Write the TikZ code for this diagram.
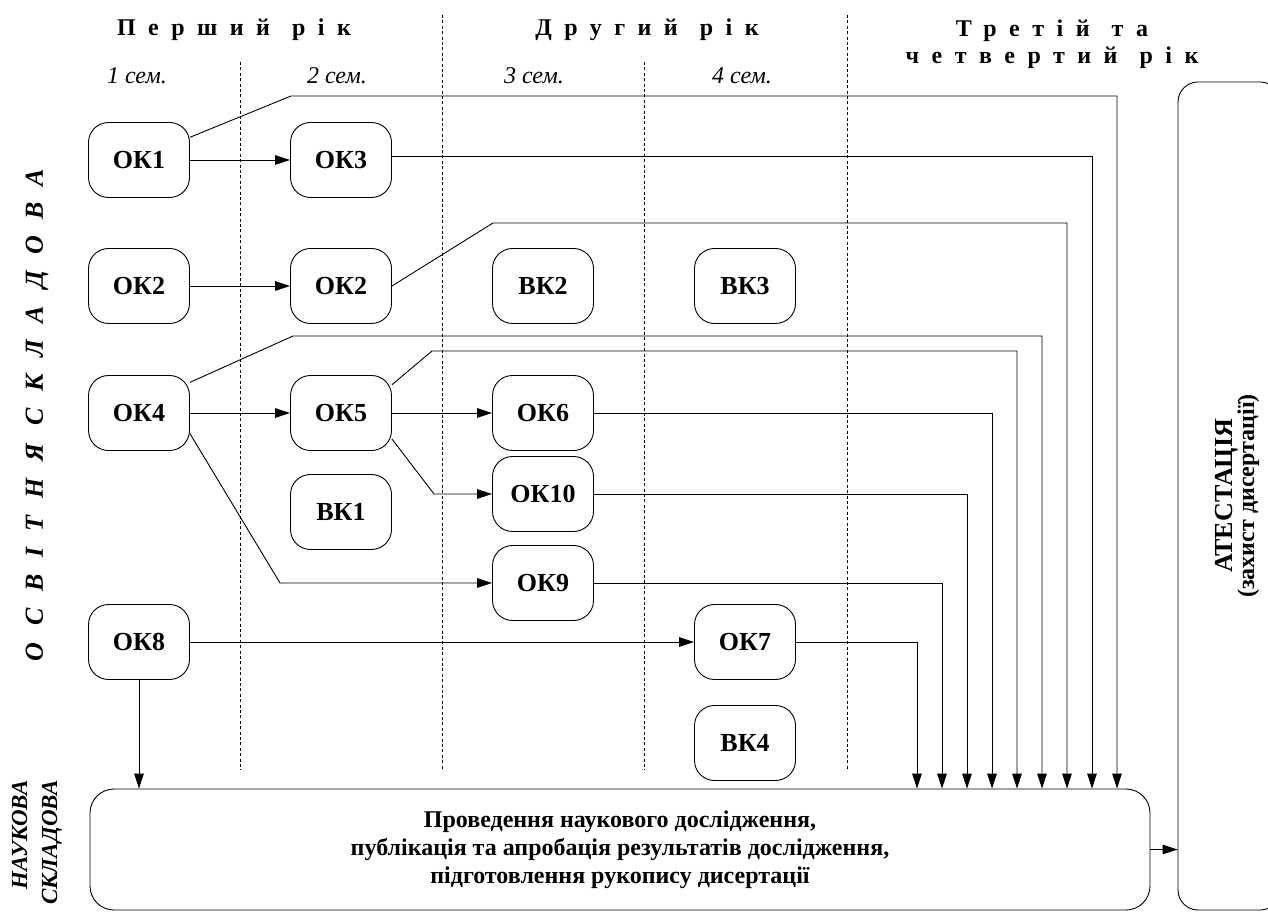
\documentclass[tikz,border=0pt]{standalone}
\usepackage{fontspec}
\setmainfont{Liberation Serif}
\usetikzlibrary{arrows.meta}

\newcommand{\yearfont}{\bfseries\fontsize{12}{13.5}\selectfont\addfontfeature{LetterSpace=52}}
\newcommand{\semfont}{\itshape\fontsize{12}{14}\selectfont}
\newcommand{\partfont}{\bfseries\itshape\fontsize{13}{15}\selectfont}

\tikzset{
  disc/.style={draw, rounded corners=10pt, minimum width=50.5pt, minimum height=37.5pt, inner sep=0pt, font=\bfseries\fontsize{13}{15}\selectfont},
  arr/.style={-{Triangle[length=7.5pt,width=4.8pt]}},
  sem/.style={dash pattern=on 1.5pt off 1.2pt},
}

\begin{document}
\begin{tikzpicture}[x=0.5pt,y=-0.5pt,line width=0.45pt]
\useasboundingbox (0,0) rectangle (1268,913);

\node[font=\yearfont] (yr1) at (234,30) {Перший\hspace{11pt}рік};						% Jahr 1
\node[font=\yearfont] (yr2) at (647,30) {Другий\hspace{11pt}рік};						% Jahr 2
\node[font=\yearfont, align=center] (yr34) at (1052,44) {Третій\hspace{11pt}та\\четвертий\hspace{11pt}рік};	% Jahr 3-4

\node[font=\semfont] (s1) at (137,76) {1 сем.};
\node[font=\semfont] (s2) at (337,76) {2 сем.};
\node[font=\semfont] (s3) at (534,76) {3 сем.};
\node[font=\semfont] (s4) at (742,76) {4 сем.};

\draw[sem] (240,62) -- (240,770);							% Semestergrenze
\draw[sem] (442,15) -- (442,770);							% Jahresgrenze
\draw[sem] (644,62) -- (644,770);							% Semestergrenze
\draw[sem] (847,15) -- (847,770);							% Jahresgrenze

\node[rotate=90, inner sep=0pt, font=\partfont\addfontfeature{LetterSpace=64}] (osv) at (37,415) {ОСВІТНЯ\hspace{9pt}СКЛАДОВА};
\node[rotate=90, inner sep=0pt, anchor=east, align=right, font=\bfseries\itshape\fontsize{11.5}{15}\selectfont] (nauklbl) at (37,780) {НАУКОВА\\СКЛАДОВА};

\node[disc] (ok1) at (139,160) {ОК1};
\node[disc] (ok3) at (341,160) {ОК3};
\node[disc] (ok2) at (139,286) {ОК2};
\node[disc] (ok2b) at (341,286) {ОК2};
\node[disc] (vk2) at (543,286) {ВК2};
\node[disc] (vk3) at (745,286) {ВК3};
\node[disc] (ok4) at (139,413) {ОК4};
\node[disc] (ok5) at (341,413) {ОК5};
\node[disc] (ok6) at (543,413) {ОК6};
\node[disc] (vk1) at (341,512) {ВК1};
\node[disc] (ok10) at (543,494) {ОК10};
\node[disc] (ok9) at (543,583) {ОК9};
\node[disc] (ok8) at (139,642) {ОК8};
\node[disc] (ok7) at (745,642) {ОК7};
\node[disc] (vk4) at (745,743) {ВК4};

\node[draw, rounded corners=12pt, minimum width=530pt, minimum height=60.5pt, align=center,
  font=\bfseries\fontsize{12}{14}\selectfont] (res) at (620,849.5)
  {Проведення наукового дослідження,\\публікація та апробація результатів дослідження,\\підготовлення рукопису дисертації};
\node[draw, rounded corners=10pt, minimum width=51pt, minimum height=414pt, inner sep=0pt] (att) at (1229,496)
  {\hspace{9pt}\rotatebox{90}{\begin{tabular}{@{}c@{}}\fontsize{13}{14}\selectfont\bfseries АТЕСТАЦІЯ\\[-1pt]\fontsize{12}{14}\selectfont\bfseries (захист дисертації)\end{tabular}}};

\draw[arr] (ok1) -- (ok3);												% 1 -> 3
\draw[arr] (ok1.24) -- (291,96) -| (1117,0 |- res.north);				% OK1 nach unten
\draw[arr] (ok3.4) -| (1092,0 |- res.north);							% OK3 nach unten
\draw[arr] (ok2) -- (ok2b);												% 2 -> 2
\draw[arr] (ok2b.east) -- (493,223) -| (1067,0 |- res.north);			% OK2 nach unten
\draw[arr] (ok4.31) -- (293,336) -| (1042,0 |- res.north);				% OK4 oben
\draw[arr] (ok4) -- (ok5);												% 4 -> 5
\draw[arr] (ok4.-22) -- (280,583) -- (ok9);								% 4 -> 9
\draw[arr] (ok5.29) -- (432,351) -| (1017,0 |- res.north);				% OK5 oben
\draw[arr] (ok5) -- (ok6);												% 5 -> 6
\draw[arr] (ok5.-27) -- (434,494) -- (ok10);							% 5 -> 10
\draw[arr] (ok6.east) -| (992,0 |- res.north);							% OK6 nach unten
\draw[arr] (ok10.east) -| (967,0 |- res.north);							% OK10 nach unten
\draw[arr] (ok9.east) -| (942,0 |- res.north);							% OK9 nach unten
\draw[arr] (ok8) -- (ok7);												% 8 -> 7
\draw[arr] (ok7.east) -| (917,0 |- res.north);							% OK7 nach unten
\draw[arr] (ok8) -- (ok8 |- res.north);									% OK8 nach unten
\draw[arr] (res.east) -- (att.west |- res.east);						% zur Attestation

\end{tikzpicture}
\end{document}
